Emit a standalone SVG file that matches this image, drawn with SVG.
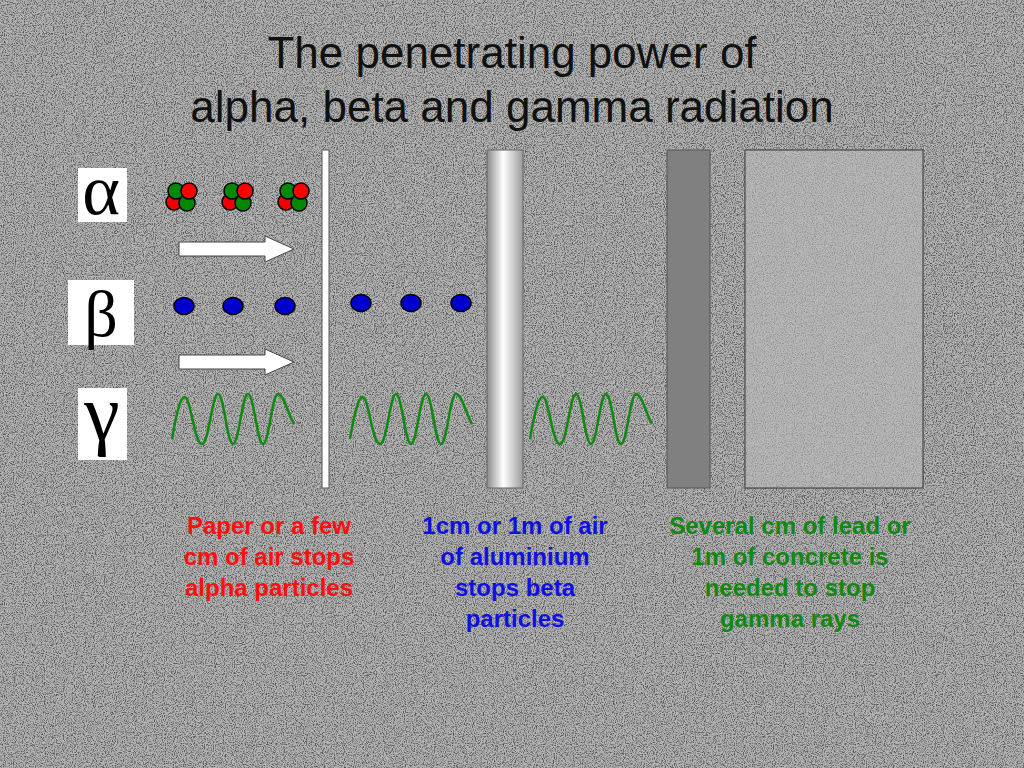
<svg xmlns="http://www.w3.org/2000/svg" width="1024" height="768" viewBox="0 0 1024 768">
<defs>
<filter id="noise" x="0" y="0" width="100%" height="100%">
<feTurbulence type="fractalNoise" baseFrequency="0.9" numOctaves="2" seed="3"/>
<feColorMatrix type="matrix" values="0 0 0 0 0  0 0 0 0 0  0 0 0 0 0  -3 0 0 0 1.7"/>
</filter>
<linearGradient id="al" x1="0" x2="1"><stop offset="0" stop-color="#8a8a8a"/><stop offset="0.45" stop-color="#ffffff"/><stop offset="1" stop-color="#9a9a9a"/></linearGradient>
<g id="alpha" stroke="#000" stroke-width="1.5"><circle cx="-7" cy="5" r="8" fill="#e00"/><circle cx="-5" cy="-6" r="8" fill="#080"/><circle cx="6" cy="6" r="8" fill="#080"/><circle cx="8" cy="-6" r="8" fill="#f00"/></g>
<path id="arrow" d="M0,-7 H86 V-13 L115,0 L86,13 V7 H0 Z" fill="#fff" stroke="#444" stroke-width="1"/>
<path id="wave" d="M0,20 C5,-10 10,-28 15,-20 C20,-10 23,25 30,25 C37,25 40,-25 46,-25 C52,-25 55,25 61,25 C67,25 70,-25 76,-25 C82,-25 85,25 91,25 C97,25 100,-25 106,-25 C112,-25 116,-5 122,5" fill="none" stroke="#118811" stroke-width="2.5"/>
</defs>
<style>
.t{font-family:"Liberation Sans",Arial,sans-serif;font-weight:bold;font-size:24px;text-anchor:middle}
.b{fill:#00c;stroke:#000;stroke-width:1.5}
</style>
<rect width="1024" height="768" fill="#b4b4b4"/>
<rect width="1024" height="768" filter="url(#noise)" opacity="0.55"/>
<g id="title" font-family="'Liberation Sans',Arial,sans-serif" font-size="44" fill="#111" text-anchor="middle">
<text x="512" y="68">The penetrating power of</text>
<text x="512" y="122">alpha, beta and gamma radiation</text>
</g>
<g id="symbols" font-family="'Liberation Serif','Times New Roman',serif" text-anchor="middle">
<rect x="78" y="168" width="49" height="54" fill="#fff"/><text x="101" y="214" font-size="72">α</text>
<rect x="68" y="280" width="66" height="65" fill="#fff"/><text x="101" y="336" font-size="66">β</text>
<rect x="78" y="388" width="49" height="72" fill="#fff"/><text x="102" y="440" font-size="80">γ</text>
</g>
<g id="barriers">
<rect x="322" y="150" width="7" height="338" fill="#fff" stroke="#555" stroke-width="1"/>
<rect x="487" y="150" width="36" height="338" fill="url(#al)" stroke="#666" stroke-width="1"/>
<rect x="667" y="150" width="43" height="338" fill="#808080" stroke="#555" stroke-width="1"/>
<rect x="745" y="150" width="178" height="338" fill="#b8b8b8" stroke="#444" stroke-width="1.2"/>
<rect x="746" y="151" width="176" height="336" filter="url(#noise)" opacity="0.2"/>
</g>
<g id="particles">
<use href="#alpha" x="181" y="197"/><use href="#alpha" x="237" y="197"/><use href="#alpha" x="293" y="197"/>
<use href="#arrow" x="179" y="249"/>
<use href="#arrow" x="179" y="362"/>
<ellipse class="b" cx="184" cy="306" rx="10" ry="8.5"/><ellipse class="b" cx="233" cy="306" rx="10" ry="8.5"/><ellipse class="b" cx="285" cy="306" rx="10" ry="8.5"/>
<ellipse class="b" cx="361" cy="303" rx="10" ry="8.5"/><ellipse class="b" cx="411" cy="303" rx="10" ry="8.5"/><ellipse class="b" cx="461" cy="303" rx="10" ry="8.5"/>
<use href="#wave" x="172" y="419"/>
<use href="#wave" x="350" y="419"/>
<use href="#wave" x="530" y="419"/>
</g>
<g id="labels" class="t">
<g fill="#ff1010"><text x="269" y="534">Paper or a few</text><text x="269" y="565">cm of air stops</text><text x="269" y="596">alpha particles</text></g>
<g fill="#1010e0"><text x="515" y="534">1cm or 1m of air</text><text x="515" y="565">of aluminium</text><text x="515" y="596">stops beta</text><text x="515" y="627">particles</text></g>
<g fill="#118811"><text x="790" y="534">Several cm of lead or</text><text x="790" y="565">1m of concrete is</text><text x="790" y="596">needed to stop</text><text x="790" y="627">gamma rays</text></g>
</g>
</svg>
